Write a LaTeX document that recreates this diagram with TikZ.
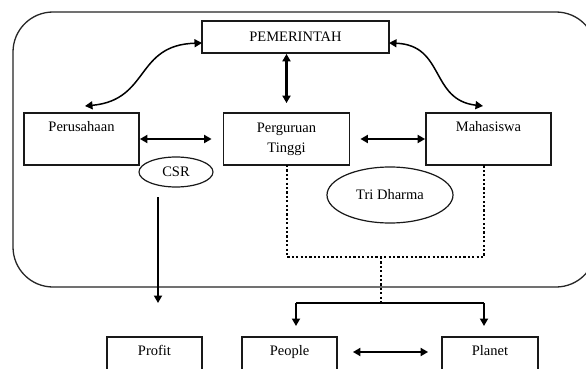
\documentclass[tikz,border=0pt]{standalone}
\usepackage{fontspec}
\setmainfont{Liberation Serif}
\usetikzlibrary{arrows.meta,shapes.geometric}
\begin{document}
\begin{tikzpicture}[x=1pt,y=-1pt,
  every node/.style={font=\fontsize{14.5}{20}\selectfont, text=black},
  box/.style={draw=black!90, line width=1.8pt, rectangle, inner sep=0pt, align=center},
  oval/.style={draw=black!90, line width=1.2pt, ellipse, inner sep=0pt},
  arr/.style={draw=black, line width=2.1pt, -{Triangle[length=7.5pt,width=8pt]}},
  biarr/.style={draw=black, line width=2.1pt, {Triangle[length=7.5pt,width=8pt]}-{Triangle[length=7.5pt,width=8pt]}},
  curvarr/.style={draw=black, line width=1.5pt, {Triangle[length=7.5pt,width=8pt]}-{Triangle[length=7.5pt,width=8pt]}},
  dotline/.style={draw=black, line width=2.4pt, dash pattern=on 2.2pt off 2.2pt},
  frame/.style={draw=black!85, line width=1.3pt, rounded corners=40pt}]
\useasboundingbox (0,0) rectangle (586,369);
\clip (0,0) rectangle (586,369);
\fill[white] (0,0) rectangle (586,369);

% outer frame
\draw[frame] (13,12) rectangle (596,287);

% nodes
\node[box, minimum width=187pt, minimum height=32pt] (pem) at (295.5,37) {PEMERINTAH};
\node[box, minimum width=115pt, minimum height=52pt] (pru) at (81.5,139) {Perusahaan\\\strut};
\node[box, minimum width=126pt, minimum height=52pt] (per) at (286.5,139) {Perguruan\\Tinggi};
\node[box, minimum width=125pt, minimum height=52pt] (mah) at (488.5,139) {Mahasiswa\\\strut};
\node[oval, minimum width=74pt, minimum height=30pt] (csr) at (176,172) {CSR};
\node[oval, minimum width=126pt, minimum height=56pt] (tri) at (390,195) {Tri Dharma};
\node[box, minimum width=95pt, minimum height=52pt] (prof) at (154.5,363) {Profit\\\strut};
\node[box, minimum width=95pt, minimum height=52pt] (peo) at (289.5,363) {People\\\strut};
\node[box, minimum width=96pt, minimum height=52pt] (pla) at (490,363) {Planet\\\strut};

% coordinates
\coordinate (pemL) at (202,43);
\coordinate (pemR) at (389,43);
\coordinate (pruT) at (85,106);
\coordinate (mahT) at (483,106);
\coordinate (csrB) at (158,197);
\coordinate (profT) at (158,303);
\coordinate (perD) at (287,165);
\coordinate (mahD) at (484,165);
\coordinate (dl) at (287,257);
\coordinate (dr) at (484,257);
\coordinate (dm) at (381,257);
\coordinate (jm) at (381,303);
\coordinate (jl) at (296,303);
\coordinate (jr) at (484,303);
\coordinate (peoT) at (296,326);
\coordinate (plaT) at (484,326);

% connectors
\draw[curvarr] (pruT) .. controls (150,100) and (135,45) .. (pemL);
\draw[curvarr] (pemR) .. controls (445,45) and (430,100) .. (mahT);
\draw[biarr, shorten >=9pt] (per.north |- pem.south) -- (per.north);
\draw[biarr, shorten >=11pt] (pru.east) -- (per.west);
\draw[biarr, shorten <=10pt] (per.east) -- (mah.west);
\draw[arr] (csrB) -- (profT);
\draw[dotline] (perD) -- (dl) -- (dr) -- (mahD);
\draw[dotline] (dm) -- (jm);
\draw[line width=1.6pt, draw=black] (jl) -- (jr);
\draw[arr] (jl) -- (peoT);
\draw[arr] (jr) -- (plaT);
\draw[biarr, shorten <=15pt, shorten >=13pt] (peo.east |- 0,352) -- (pla.west |- 0,352);
\end{tikzpicture}
\end{document}
